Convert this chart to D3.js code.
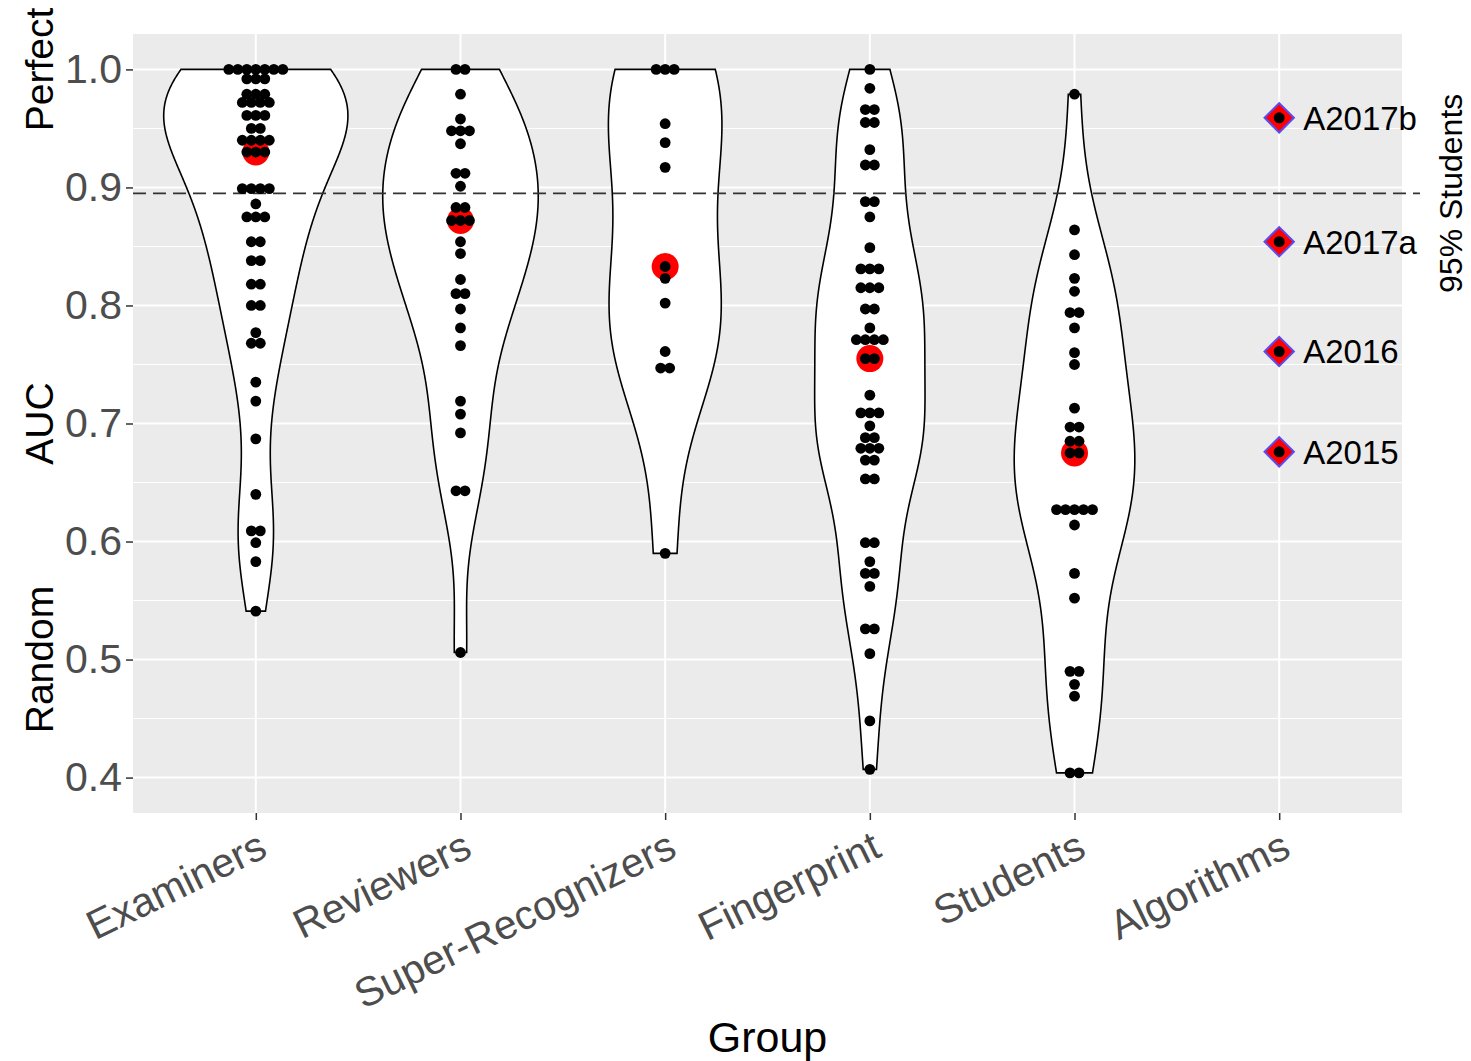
<!DOCTYPE html>
<html>
<head>
<meta charset="utf-8">
<script src="https://cdn.jsdelivr.net/npm/d3@7"></script>
<style>
  body { margin: 0; background: #fff; }
  text { font-family: "Liberation Sans", Arial, sans-serif; }
</style>
</head>
<body>
<div id="plot"></div>
<script>
// categories on the x axis
const groups = ["Examiners", "Reviewers", "Super-Recognizers", "Fingerprint", "Students", "Algorithms"];

// AUC per participant (repeats = dots in one row)
const examiners = [1.0, 1.0, 1.0, 1.0, 1.0, 1.0, 1.0,
  0.992, 0.992, 0.992, 0.979, 0.979, 0.979, 0.972, 0.972, 0.972, 0.972,
  0.961, 0.961, 0.961, 0.950, 0.950, 0.940, 0.940, 0.940, 0.940,
  0.930, 0.930, 0.930, 0.899, 0.899, 0.899, 0.899, 0.886, 0.875, 0.875, 0.875,
  0.854, 0.854, 0.838, 0.838, 0.818, 0.818, 0.800, 0.800, 0.777, 0.768, 0.768,
  0.735, 0.719, 0.687, 0.640, 0.609, 0.609, 0.599, 0.583, 0.541];

const reviewers = [1.0, 1.0, 0.979, 0.958, 0.948, 0.948, 0.948, 0.937, 0.912, 0.912,
  0.901, 0.883, 0.883, 0.872, 0.872, 0.872, 0.854, 0.844, 0.822, 0.810, 0.810,
  0.797, 0.781, 0.766, 0.719, 0.708, 0.692, 0.643, 0.643, 0.506];

const superRecognizers = [1.0, 1.0, 1.0, 0.954, 0.938, 0.917, 0.833, 0.823, 0.802,
  0.761, 0.747, 0.747, 0.590];

const fingerprint = [1.0, 0.984, 0.966, 0.966, 0.955, 0.955, 0.932, 0.919, 0.919,
  0.888, 0.888, 0.875, 0.849, 0.831, 0.831, 0.831, 0.815, 0.815, 0.815, 0.797, 0.797,
  0.781, 0.771, 0.771, 0.771, 0.771, 0.755, 0.755, 0.724, 0.709, 0.709, 0.709, 0.698,
  0.688, 0.688, 0.679, 0.679, 0.679, 0.669, 0.669, 0.653, 0.653, 0.599, 0.599, 0.583,
  0.573, 0.573, 0.562, 0.526, 0.526, 0.505, 0.448, 0.407];

const students = [0.979, 0.864, 0.843, 0.823, 0.812, 0.794, 0.794, 0.781, 0.760, 0.750,
  0.713, 0.697, 0.697, 0.685, 0.685, 0.675, 0.675, 0.627, 0.627, 0.627, 0.627, 0.627,
  0.614, 0.573, 0.552, 0.490, 0.490, 0.479, 0.469, 0.404, 0.404];

const algorithmNames = ["A2017b", "A2017a", "A2016", "A2015"];
const algorithmAUC = [0.959, 0.854, 0.761, 0.676];

const studentsCutoff = 0.895;   // 95% Students line
const yTicks = [0.4, 0.5, 0.6, 0.7, 0.8, 0.9, 1.0];
const yMinor = [0.45, 0.55, 0.65, 0.75, 0.85, 0.95];

const people = [examiners, reviewers, superRecognizers, fingerprint, students];

const margin = {top: 34, right: 69, bottom: 248, left: 133};
const width = 1471 - margin.left - margin.right;
const height = 1061 - margin.top - margin.bottom;

const root = d3.select("div#plot")
  .append("svg")
  .attr("width", 1471)
  .attr("height", 1061);

const svg = root.append("g")
  .attr("transform", `translate(${margin.left},${margin.top})`);

const x = d3.scalePoint().domain(groups).range([0, width]).padding(0.6);
const y = d3.scaleLinear().domain([0.37, 1.03]).range([height, 0]);

// panel + grid
svg.append("rect").attr("width", width).attr("height", height).attr("fill", "#ebebeb");

svg.selectAll(".minor").data(yMinor).join("line")
  .attr("x1", 0).attr("x2", width)
  .attr("y1", d => y(d)).attr("y2", d => y(d))
  .attr("stroke", "#fff").attr("stroke-width", 1);

svg.selectAll(".major").data(yTicks).join("line")
  .attr("x1", 0).attr("x2", width)
  .attr("y1", d => y(d)).attr("y2", d => y(d))
  .attr("stroke", "#fff").attr("stroke-width", 2);

svg.selectAll(".vgrid").data(groups).join("line")
  .attr("x1", d => x(d)).attr("x2", d => x(d))
  .attr("y1", 0).attr("y2", height)
  .attr("stroke", "#fff").attr("stroke-width", 2);

// kernel density like R's density() with bw.nrd0, trimmed to the data range
function density(values) {
  const v = values.slice().sort(d3.ascending);
  const n = v.length;
  const sd = d3.deviation(v);
  const iqr = d3.quantileSorted(v, 0.75) - d3.quantileSorted(v, 0.25);
  let lo = Math.min(sd, iqr / 1.34);
  if (!(lo > 0)) lo = sd || 1;
  const bw = 0.9 * lo * Math.pow(n, -0.2);
  const min = v[0], max = v[n - 1];
  const pts = [];
  for (let i = 0; i < 512; i++) {
    const t = min + (max - min) * i / 511;
    let s = 0;
    for (const xi of v) {
      const z = (t - xi) / bw;
      s += Math.exp(-0.5 * z * z);
    }
    pts.push({v: t, d: s / (n * bw * Math.sqrt(2 * Math.PI))});
  }
  return pts;
}

const dens = people.map(density);
const maxDens = d3.max(dens, p => d3.max(p, d => d.d));
const half = x.step() * 0.45;

dens.forEach((pts, i) => {
  const cx = x(groups[i]);
  const area = d3.area()
    .y(d => y(d.v))
    .x0(d => cx - half * d.d / maxDens)
    .x1(d => cx + half * d.d / maxDens);
  svg.append("path")
    .datum(pts)
    .attr("d", area)
    .attr("fill", "#fff")
    .attr("stroke", "#000")
    .attr("stroke-width", 1.6);
});

// 95% students line
svg.append("line")
  .attr("x1", 0).attr("x2", width + 18)
  .attr("y1", y(studentsCutoff)).attr("y2", y(studentsCutoff))
  .attr("stroke", "#333").attr("stroke-width", 1.6)
  .attr("stroke-dasharray", "13,7");

// medians
people.forEach((vals, i) => {
  svg.append("circle")
    .attr("cx", x(groups[i]))
    .attr("cy", y(d3.median(vals)))
    .attr("r", 13.5)
    .attr("fill", "#ff0000");
});

// dot stacks
const dotStep = 9;
people.forEach((vals, i) => {
  const cx = x(groups[i]);
  d3.groups(vals, d => d).forEach(([v, row]) => {
    row.forEach((_, k) => {
      svg.append("circle")
        .attr("cx", cx + (k - (row.length - 1) / 2) * dotStep)
        .attr("cy", y(v))
        .attr("r", 5.4)
        .attr("fill", "#000");
    });
  });
});

// algorithms
const ax = x("Algorithms");
const diamond = d3.symbol(d3.symbolSquare, 430);
algorithmAUC.forEach((v, i) => {
  svg.append("path")
    .attr("d", diamond())
    .attr("transform", `translate(${ax},${y(v)}) rotate(45)`)
    .attr("fill", "#ff0000")
    .attr("stroke", "#5a4cf5")
    .attr("stroke-width", 2);
  svg.append("circle")
    .attr("cx", ax).attr("cy", y(v)).attr("r", 5.5).attr("fill", "#000");
  svg.append("text")
    .attr("x", ax + 24).attr("y", y(v)).attr("dy", "0.36em")
    .attr("font-size", 33)
    .attr("fill", "#000")
    .text(algorithmNames[i]);
});

// axes
const xAxis = svg.append("g")
  .attr("transform", `translate(0,${height})`)
  .call(d3.axisBottom(x).tickSize(7));
xAxis.select(".domain").remove();
xAxis.selectAll("line").attr("stroke", "#333").attr("stroke-width", 1.5);
xAxis.selectAll("text")
  .attr("x", 0).attr("y", 0).attr("dy", "0.72em")
  .attr("transform", "translate(0,16) rotate(-26)")
  .style("text-anchor", "end")
  .attr("font-size", 41)
  .attr("font-family", "Liberation Sans, Arial, sans-serif")
  .attr("fill", "#4d4d4d");

const yAxis = svg.append("g")
  .call(d3.axisLeft(y).tickValues(yTicks).tickFormat(d3.format(".1f")).tickSize(7).tickPadding(4));
yAxis.select(".domain").remove();
yAxis.selectAll("line").attr("stroke", "#333").attr("stroke-width", 1.5);
yAxis.selectAll("text")
  .attr("font-size", 41)
  .attr("font-family", "Liberation Sans, Arial, sans-serif")
  .attr("fill", "#4d4d4d");

// titles
const yTitles = [["Perfect", 1.0], ["AUC", 0.7], ["Random", 0.5]];
yTitles.forEach(([t, v]) => {
  root.append("text")
    .attr("transform", `translate(53,${margin.top + y(v)}) rotate(-90)`)
    .attr("text-anchor", "middle")
    .attr("font-size", 39)
    .attr("fill", "#000")
    .text(t);
});

root.append("text")
  .attr("transform", `translate(1462,${margin.top + y(studentsCutoff)}) rotate(-90)`)
  .attr("text-anchor", "middle")
  .attr("font-size", 32)
  .attr("fill", "#000")
  .text("95% Students");

root.append("text")
  .attr("x", margin.left + width / 2)
  .attr("y", 1052)
  .attr("text-anchor", "middle")
  .attr("font-size", 43)
  .attr("fill", "#000")
  .text("Group");
</script>
</body>
</html>
